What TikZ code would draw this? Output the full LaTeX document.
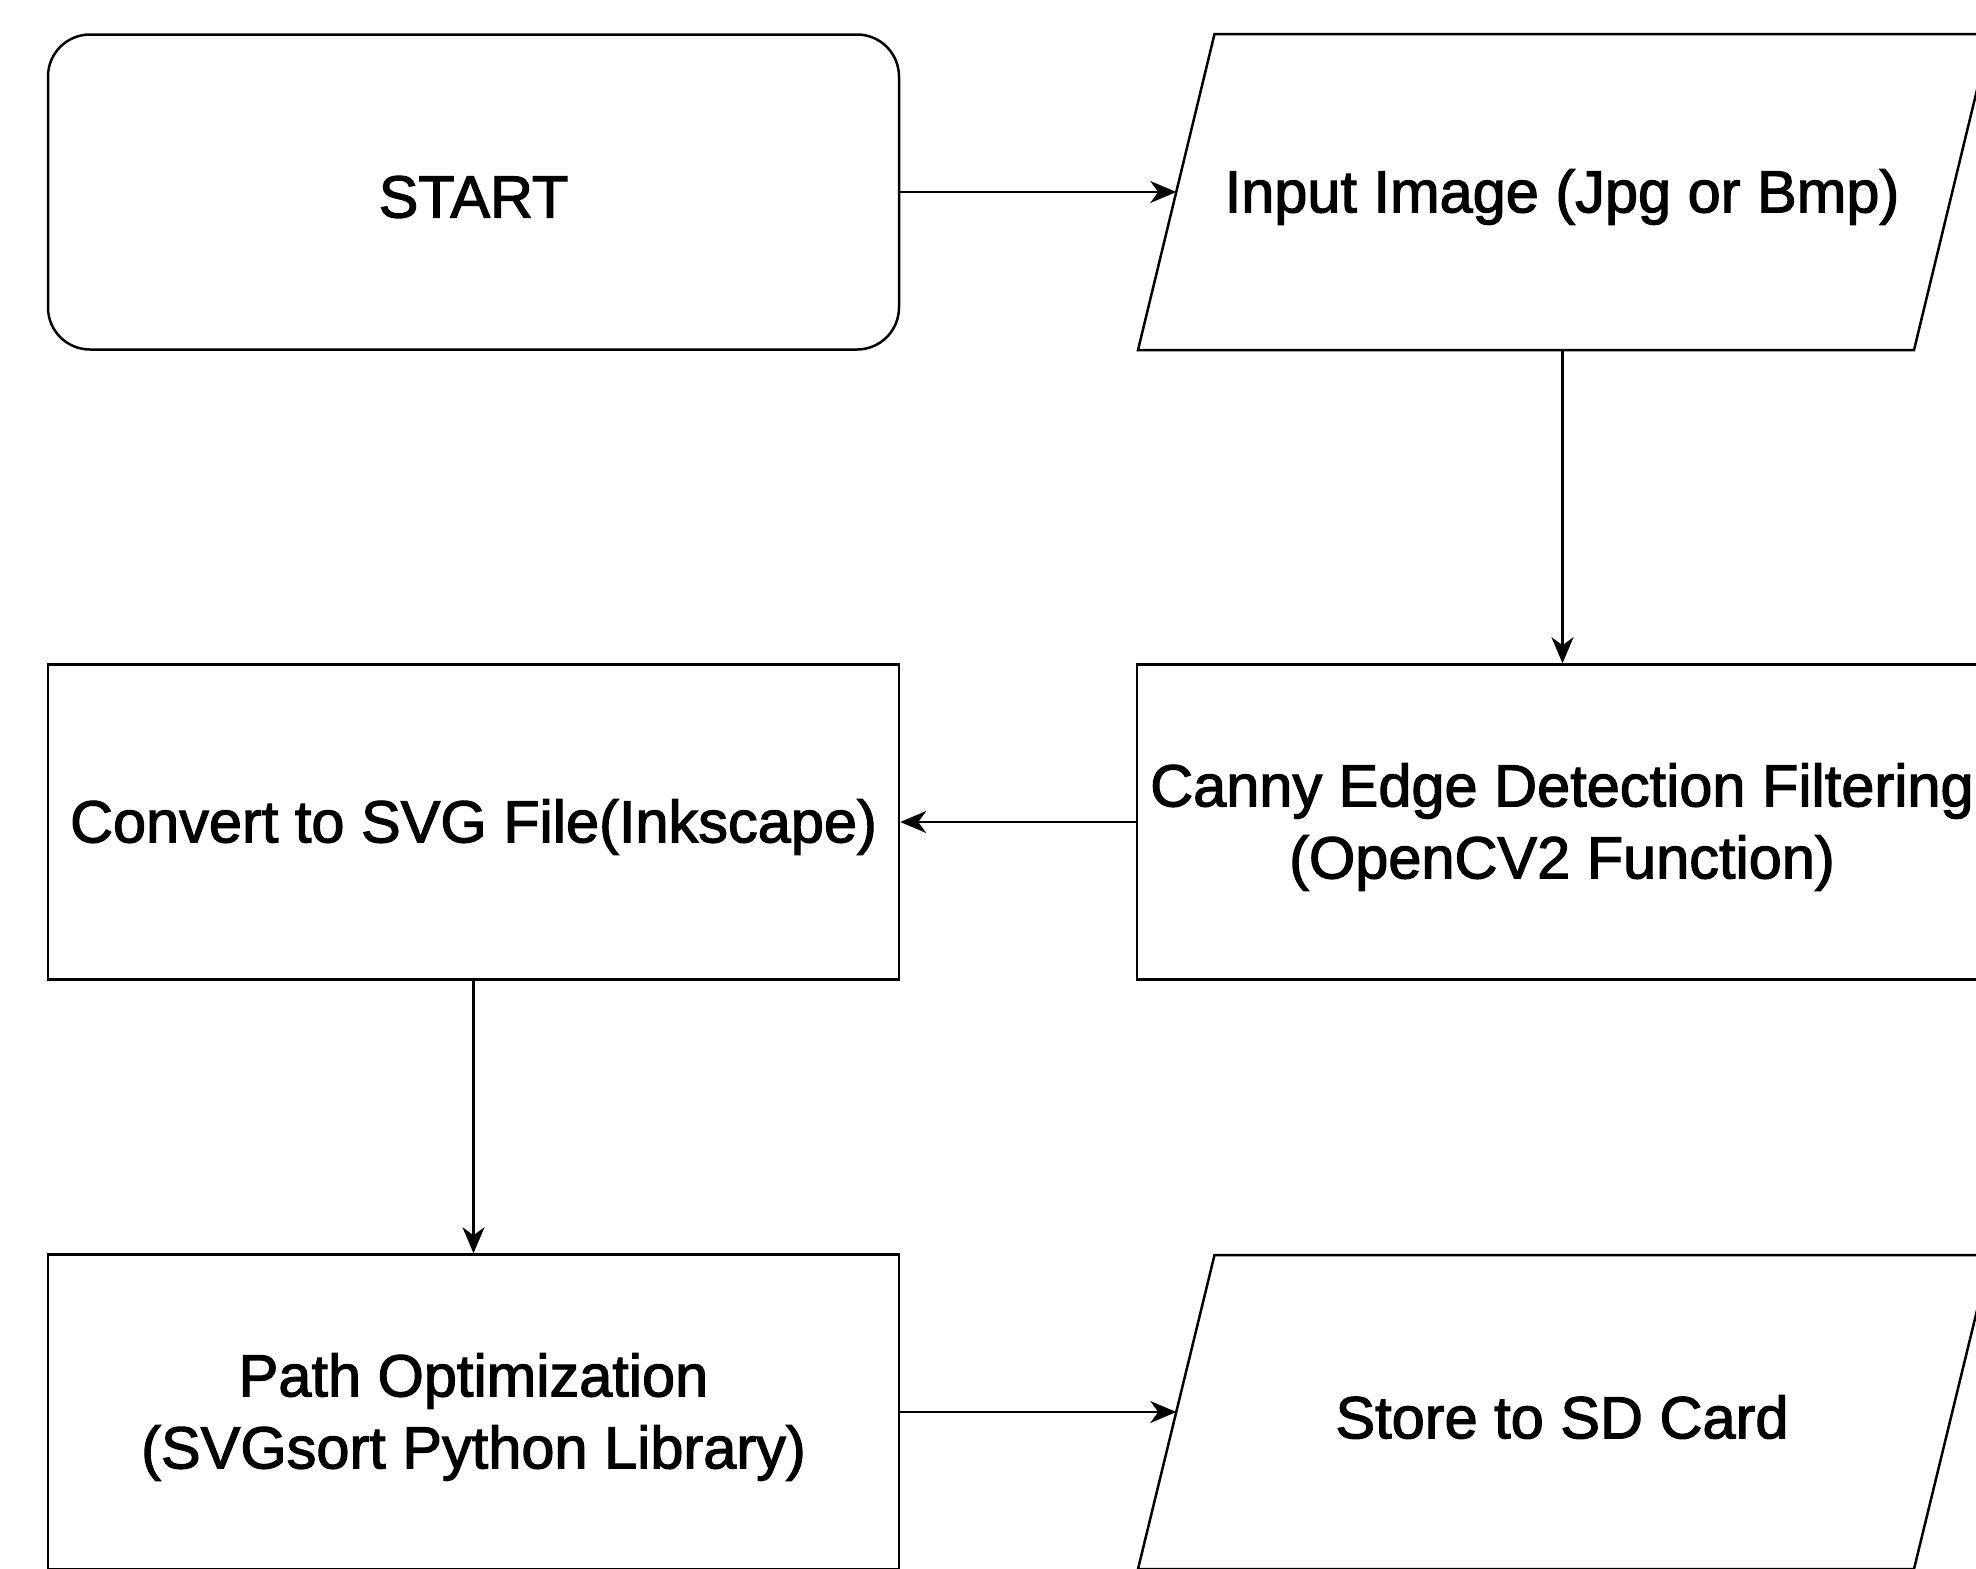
\documentclass[tikz,border=0pt]{standalone}
\usepackage{fontspec}
\setmainfont{Liberation Sans}
\newfontfamily\lblfont{Liberation Sans}[FakeBold=2]
\usetikzlibrary{arrows.meta,calc}
\begin{document}
\begin{tikzpicture}[x=1pt,y=-1pt,
  lbl/.style={font=\lblfont\fontsize{59.5}{72}\selectfont, align=center, text=black},
  box/.style={draw, line width=2.5pt, minimum width=851pt, minimum height=315pt, inner sep=0pt},
  rbox/.style={box, rounded corners=42pt},
  iobox/.style={draw, line width=2.5pt, line join=miter},
  arr/.style={line width=2.5pt, -{Stealth[length=26pt,width=22pt,inset=8pt]}}]
\useasboundingbox[fill=white] (0,0) rectangle (1976,1569);
% shapes
\node[rbox] (start) at (473.5,192) {};
\node[box] (canny) at (1562.5,822) {};
\node[box] (conv) at (473.5,822) {};
\node[box] (path) at (473.5,1412) {};
\coordinate (inTL) at (1214.5,34);
\coordinate (inTR) at (1990.5,34);
\coordinate (inBR) at (1914,350);
\coordinate (inBL) at (1138,350);
\draw[iobox] (inTL) -- (inTR) -- (inBR) -- (inBL) -- cycle;
\coordinate (inL) at ($(inTL)!0.5!(inBL)$);
\coordinate (inB) at (canny.north |- inBL);
\coordinate (stTL) at (1214.5,1255);
\coordinate (stTR) at (1990.5,1255);
\coordinate (stBR) at (1914,1569);
\coordinate (stBL) at (1138,1569);
\draw[iobox] (stTL) -- (stTR) -- (stBR) -- (stBL) -- cycle;
\coordinate (stL) at ($(stTL)!0.5!(stBL)$);
% labels
\node[lbl, yshift=-5pt] (starttext) at (start) {START};
\node[lbl, yshift=-5pt] (in) at (1562,192) {Input Image (Jpg or Bmp)};
\node[lbl, yshift=-5pt] (cannytext) at (1562,822) {Canny Edge Detection Filtering\\(OpenCV2 Function)};
\node[lbl, yshift=-5pt] (convtext) at (conv) {Convert to SVG File(Inkscape)};
\node[lbl, yshift=-5pt] (pathtext) at (path) {Path Optimization\\(SVGsort Python Library)};
\node[lbl, yshift=-5pt] (store) at (1562,1412) {Store to SD Card};
% connectors
\draw[arr] (start.east) -- (inL);
\draw[arr] (inB) -- (canny.north);
\draw[arr] (canny.west) -- (conv.east);
\draw[arr] (conv.south) -- (path.north);
\draw[arr] (path.east) -- (stL);
\end{tikzpicture}
\end{document}
